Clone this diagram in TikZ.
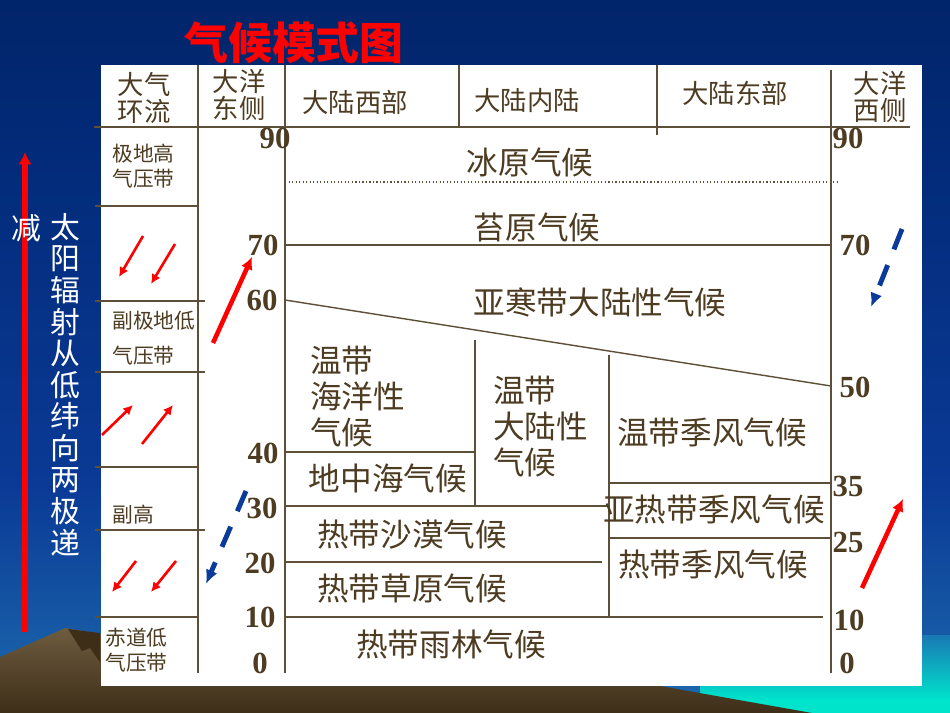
\documentclass[tikz,border=0pt]{standalone}
\usepackage{fontspec}
\setmainfont{Liberation Serif}
\newfontfamily\cjk{Noto Sans CJK SC}
\usetikzlibrary{arrows.meta}

\definecolor{ink}{HTML}{4D3C22}
\definecolor{rule}{HTML}{5E4F38}
\definecolor{navy}{HTML}{0A3A9A}
\definecolor{hilltop}{HTML}{6E5C40}
\definecolor{hillfoot}{HTML}{3E2E18}
\definecolor{seaglow}{HTML}{00E4CC}
\definecolor{seatop}{HTML}{1A78B4}
\pgfdeclareverticalshading{sky}{100bp}{rgb(0bp)=(0.12,0.72,0.78); rgb(10bp)=(0.165,0.627,0.784); rgb(23bp)=(0.122,0.44,0.69); rgb(41bp)=(0.04,0.227,0.588); rgb(65bp)=(0.008,0.165,0.47); rgb(100bp)=(0,0.094,0.282)}

\begin{document}
\begin{tikzpicture}[x=0.02cm,y=-0.02cm,
	txt/.style={text=ink,inner sep=0pt,font=\cjk\fontsize{18}{20.5}\selectfont},
	head/.style={text=ink,inner sep=0pt,align=center,font=\cjk\fontsize{15}{15.5}\selectfont},
	belt/.style={text=ink,inner sep=0pt,align=left,font=\cjk\fontsize{11.8}{14.2}\selectfont},
	num/.style={text=ink,inner sep=0pt,font=\bfseries\fontsize{17.5}{20}\selectfont},
	vert/.style={text=white,inner sep=0pt,font=\cjk\fontsize{17}{20}\selectfont},
	grid/.style={draw=rule,line width=0.8pt},
	redArr/.style={draw=red,line width=1.5pt,-{Latex[length=5.5pt,width=5.5pt]}},
	bigRed/.style={draw=red,line width=2.6pt,-{Latex[length=7pt,width=7pt]}},
	blueDash/.style={draw=navy,line width=2.8pt,dash pattern=on 12.5pt off 9.6pt,-{Latex[length=8pt,width=7pt]}}]
	%\draw[help lines] (0,0) grid[step=50] (950,713);
	\useasboundingbox (0,0) rectangle (950,713);

	% background, hills and panel
	\shade[shading=sky] (0,0) rectangle (950,713);
	\shade[top color=seatop,bottom color=seaglow] (700,635) rectangle (950,700);
	\fill[seaglow] (700,700) rectangle (950,713);
	\shade[top color=hilltop,bottom color=hillfoot] (0,657) -- (65,628) -- (102,634) -- (102,686) -- (660,686) -- (812,713) -- (0,713) -- cycle;
	\fill[hillfoot] (68,629) -- (100,633) -- (100,662) -- (90,648) -- (82,651) -- cycle;
	\fill[white] (101,65) rectangle (922,686);

	% title and side text
	\node[text=red,inner sep=0pt,font=\cjk\bfseries\fontsize{25}{30}\selectfont] (Title) at (294,43) {气候模式图};
	\draw[draw=red,line width=3pt,-{Latex[length=7pt,width=7.5pt]}] (25,632) -- (25,152);
	\node[vert] (Less) at (26,228) {减};
	\foreach \ch [count=\i] in {太,阳,辐,射,从,低,纬,向,两,极,递}
		\node[vert] (Rad\i) at (65,{227+31.6*(\i-1)}) {\ch};

	% table rules
	\draw[grid] (94,127) -- (910,127);
	\draw[grid] (198,65) -- (198,673);
	\draw[grid] (285,65) -- (285,673);
	\draw[grid] (459,65) -- (459,127);
	\draw[grid] (657,65) -- (657,135);
	\draw[grid] (831,70) -- (831,673);
	\draw[grid] (95,206) -- (198,206);
	\draw[grid] (95,301) -- (205,301);
	\draw[grid] (95,372) -- (205,372);
	\draw[grid] (95,467) -- (198,467);
	\draw[grid] (95,530) -- (205,530);
	\draw[grid] (95,617) -- (198,617);
	\draw[draw=rule,line width=0.6pt,dash pattern=on 0.7pt off 1.3pt] (285,182) -- (838,182);
	\draw[grid] (285,245) -- (831,245);
	\draw[grid] (285,300) -- (831,386);
	\draw[grid] (475,340) -- (475,506);
	\draw[grid] (609,355) -- (609,617);
	\draw[grid] (285,452) -- (475,452);
	\draw[grid] (285,506) -- (609,506);
	\draw[grid] (285,562) -- (602,562);
	\draw[grid] (285,617) -- (823,617);
	\draw[grid] (609,483) -- (831,483);
	\draw[grid] (609,538) -- (831,538);

	% header
	\node[head] (HeadCirc) at (144,98) {大气\\环流};
	\node[head] (HeadEastOcean) at (239,95) {大洋\\东侧};
	\node[head] (HeadWestLand) at (355,102) {大陆西部};
	\node[head] (HeadInland) at (527,101) {大陆内陆};
	\node[head] (HeadEastLand) at (735,93) {大陆东部};
	\node[head] (HeadWestOcean) at (880,97) {大洋\\西侧};

	% pressure belts
	\node[belt,anchor=west] (PolarHigh) at (112,166) {极地高\\气压带};
	\node[belt,anchor=west,font=\cjk\fontsize{11.8}{19.8}\selectfont] (SubpolarLow) at (112,338) {副极地低\\气压带};
	\node[belt,anchor=west] (SubHigh) at (112,515) {副高};
	\node[belt,anchor=west] (EquatorLow) at (105,650) {赤道低\\气压带};

	% climate zones
	\node[txt] (IceCap) at (530,162) {冰原气候};
	\node[txt] (Tundra) at (537,227) {苔原气候};
	\node[txt] (Taiga) at (600,302) {亚寒带大陆性气候};
	\node[txt,anchor=west,align=left] (MarineWest) at (310,397) {温带\\海洋性\\气候};
	\node[txt,anchor=west,align=left] (ContTemp) at (493,427) {温带\\大陆性\\气候};
	\node[txt] (Medit) at (388,478) {地中海气候};
	\node[txt] (MonsoonTemp) at (712,432) {温带季风气候};
	\node[txt] (MonsoonSub) at (714,510) {亚热带季风气候};
	\node[txt] (MonsoonTrop) at (713,565) {热带季风气候};
	\node[txt] (Desert) at (412,535) {热带沙漠气候};
	\node[txt] (Savanna) at (412,589) {热带草原气候};
	\node[txt] (Rainforest) at (451,645) {热带雨林气候};

	% latitudes
	\node[num] (LatL90) at (275,138) {90};
	\node[num] (LatL70) at (263,245) {70};
	\node[num] (LatL60) at (262,300) {60};
	\node[num] (LatL40) at (263,453) {40};
	\node[num] (LatL30) at (262,508) {30};
	\node[num] (LatL20) at (260,563) {20};
	\node[num] (LatL10) at (260,617) {10};
	\node[num] (LatL0) at (260,663) {0};
	\node[num] (LatR90) at (848,138) {90};
	\node[num] (LatR70) at (855,245) {70};
	\node[num] (LatR50) at (855,387) {50};
	\node[num] (LatR35) at (848,486) {35};
	\node[num] (LatR25) at (848,542) {25};
	\node[num] (LatR10) at (849,620) {10};
	\node[num] (LatR0) at (847,663) {0};

	% winds and currents
	\draw[redArr] (143,236) -- (119,277);
	\draw[redArr] (175,244) -- (151,284);
	\draw[redArr] (102,435) -- (133,405);
	\draw[redArr] (142,444) -- (173,405);
	\draw[redArr] (136,561) -- (112,592);
	\draw[redArr] (176,561) -- (151,592);
	\draw[bigRed] (213,343) -- (252,257);
	\draw[bigRed] (862,588) -- (903,499);
	\draw[blueDash] (246,491) -- (206,584);
	\draw[blueDash] (902,229) -- (871,307);

\end{tikzpicture}
\end{document}
